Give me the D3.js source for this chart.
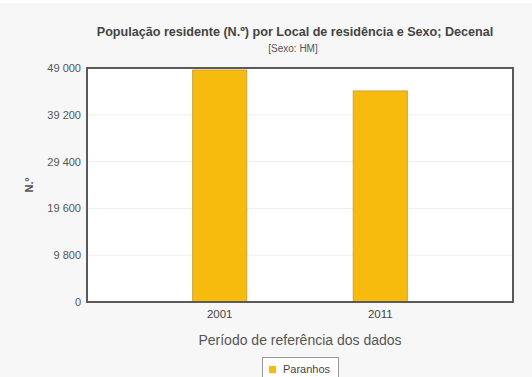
<!DOCTYPE html>
<html>
<head>
<meta charset="utf-8">
<script src="https://cdn.jsdelivr.net/npm/d3@7"></script>
<style>
  body { margin: 0; background: #fff; }
  svg { display: block; font-family: "Liberation Sans", Arial, sans-serif; }
</style>
</head>
<body>
<svg id="chart" width="532" height="377"></svg>
<script>
// data
var years = ["2001", "2011"];
var paranhos = [48686, 44298];
var yTicks = [0, 9800, 19600, 29400, 39200, 49000];
var seriesName = "Paranhos";

var svg = d3.select("#chart");
var W = 532, H = 377;
var plot = { left: 87, right: 513, top: 68, bottom: 302 };

// page background (light grey under a thin white strip)
svg.append("rect").attr("x", 0).attr("y", 3).attr("width", W).attr("height", H - 3).attr("fill", "#f7f7f7");

var x = d3.scaleBand().domain(years).range([plot.left, plot.right])
  .paddingInner(0.657).paddingOuter(0.655);
var y = d3.scaleLinear().domain([0, 49000]).range([plot.bottom, plot.top]);

// plot background
svg.append("rect")
  .attr("x", plot.left).attr("y", plot.top)
  .attr("width", plot.right - plot.left).attr("height", plot.bottom - plot.top)
  .attr("fill", "#fff");

// grid lines
svg.append("g").selectAll("line").data(yTicks.slice(1, -1)).join("line")
  .attr("x1", plot.left).attr("x2", plot.right)
  .attr("y1", d => y(d)).attr("y2", d => y(d))
  .attr("stroke", "#eee").attr("stroke-width", 1);

// bars
svg.append("g").selectAll("rect").data(paranhos).join("rect")
  .attr("x", (d, i) => x(years[i]) + 0.5)
  .attr("y", d => y(d) + 0.5)
  .attr("width", x.bandwidth() - 1)
  .attr("height", d => plot.bottom - y(d) - 0.5)
  .attr("fill", "#f6bb0c")
  .attr("stroke", "#cfa23a").attr("stroke-width", 1);

// plot frame
svg.append("rect")
  .attr("x", plot.left).attr("y", plot.top)
  .attr("width", plot.right - plot.left).attr("height", plot.bottom - plot.top)
  .attr("fill", "none").attr("stroke", "#5a5a5a").attr("stroke-width", 2);

// y axis labels
var fmt = d => d3.format(",")(d).replace(/,/g, " ");
svg.append("g").selectAll("text").data(yTicks).join("text")
  .attr("x", plot.left - 6).attr("y", d => y(d) + 4)
  .attr("text-anchor", "end")
  .attr("font-size", 11).attr("fill", "#555")
  .text(fmt);

// x axis labels
svg.append("g").selectAll("text").data(years).join("text")
  .attr("x", d => x(d) + x.bandwidth() / 2).attr("y", 318)
  .attr("text-anchor", "middle")
  .attr("font-size", 11.5).attr("fill", "#444")
  .text(d => d);

// titles
svg.append("text").attr("x", 295).attr("y", 36)
  .attr("text-anchor", "middle").attr("font-size", 12.6).attr("font-weight", "bold").attr("fill", "#444")
  .text("População residente (N.º) por Local de residência e Sexo; Decenal");
svg.append("text").attr("x", 293).attr("y", 52)
  .attr("text-anchor", "middle").attr("font-size", 10).attr("fill", "#555")
  .text("[Sexo: HM]");

svg.append("text").attr("x", 300).attr("y", 345)
  .attr("text-anchor", "middle").attr("font-size", 14).attr("fill", "#555")
  .text("Período de referência dos dados");

svg.append("text")
  .attr("transform", "translate(33," + ((plot.top + plot.bottom) / 2) + ") rotate(-90)")
  .attr("text-anchor", "middle").attr("font-size", 11).attr("font-weight", "bold").attr("fill", "#555")
  .text("N.º");

// legend
var lg = svg.append("g");
lg.append("rect").attr("x", 262.5).attr("y", 357.5).attr("width", 76).attr("height", 25)
  .attr("fill", "#fff").attr("stroke", "#999");
lg.append("rect").attr("x", 269).attr("y", 366).attr("width", 7).attr("height", 7).attr("fill", "#f6bb0c");
lg.append("text").attr("x", 283).attr("y", 373).attr("font-size", 11).attr("fill", "#444").text(seriesName);
</script>
</body>
</html>
